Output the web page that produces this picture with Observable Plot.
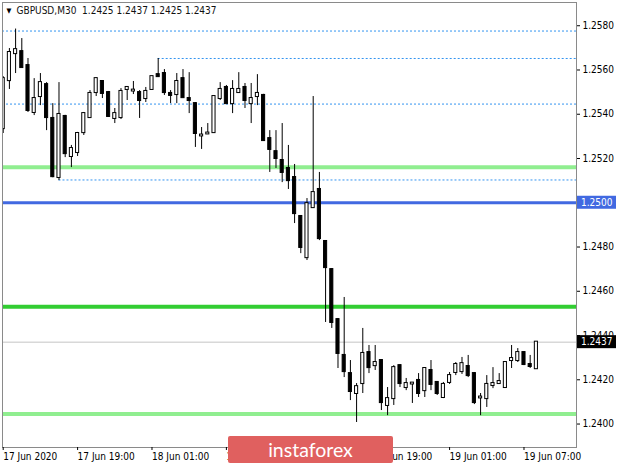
<!DOCTYPE html>
<html><head><meta charset="utf-8">
<script src="https://cdn.jsdelivr.net/npm/d3@7"></script>
<script src="https://cdn.jsdelivr.net/npm/@observablehq/plot@0.6"></script>
<style>
html,body{margin:0;padding:0;background:#fff;}
#wrap{position:relative;width:620px;height:465px;overflow:hidden;}
#wm{position:absolute;left:228px;top:436px;width:165px;height:27px;background:#e0605f;border-radius:2px;color:#fff;font:19.5px Lato,"Open Sans",sans-serif;text-align:center;line-height:27px;z-index:2;}
</style></head><body><div id="wrap"><div id="wm">instaforex</div></div>
<script>
// ---- data ----
const symbolTitle = "GBPUSD,M30";
const lastBar = [1.2425, 1.2437, 1.2425, 1.2437];

const opens = [
1.25335,1.25552,1.25674,1.25683,1.25620,1.25408,1.25480,1.25534,1.25381,1.25114,
1.25390,1.25209,1.25227,1.25317,1.25385,1.25498,1.25548,1.25498,1.25381,1.25385,
1.25512,1.25505,1.25498,1.25471,1.25512,1.25579,1.25584,1.25494,1.25489,1.25561,
1.25471,1.25448,1.25302,1.25311,1.25317,1.25471,1.25521,1.25448,1.25498,1.25521,
1.25448,1.25480,1.25485,1.25290,1.25231,1.25191,1.25155,1.25114,1.24938,1.24752,
1.24978,1.25060,1.24825,1.24698,1.24472,1.24310,1.24228,1.24138,1.24183,1.24323,
1.24264,1.24287,1.24084,1.24115,1.24264,1.24165,1.24181,1.24197,1.24151,1.24242,
1.24188,1.24120,1.24188,1.24233,1.24237,1.24260,1.24228,1.24118,1.24115,1.24174,
1.24183,1.24165,1.24287,1.24287,1.24323,1.24269,1.2425];
const highs = [
1.25570,1.25697,1.25785,1.25742,1.25652,1.25561,1.25584,1.25543,1.25448,1.25543,
1.25395,1.25259,1.25318,1.25408,1.25507,1.25565,1.25552,1.25503,1.25426,1.25516,
1.25525,1.25548,1.25507,1.25521,1.25570,1.25652,1.25602,1.25507,1.25584,1.25602,
1.25588,1.25453,1.25340,1.25358,1.25480,1.25543,1.25530,1.25552,1.25588,1.25539,
1.25539,1.25579,1.25490,1.25326,1.25326,1.25358,1.25259,1.25173,1.24942,1.25019,
1.25480,1.25137,1.24829,1.24702,1.24477,1.24572,1.24287,1.24183,1.24432,1.24355,
1.24355,1.24291,1.24165,1.24264,1.24268,1.24206,1.24185,1.24228,1.24255,1.24287,
1.24192,1.24188,1.24233,1.24278,1.24301,1.24310,1.24233,1.24138,1.24219,1.24255,
1.24228,1.24278,1.24355,1.24341,1.24327,1.24310,1.2437];
const lows = [
1.25313,1.25512,1.25584,1.25611,1.25408,1.25394,1.25439,1.25326,1.25113,1.25100,
1.25204,1.25159,1.25209,1.25304,1.25381,1.25480,1.25471,1.25386,1.25358,1.25376,
1.25462,1.25489,1.25381,1.25453,1.25512,1.25566,1.25485,1.25448,1.25448,1.25475,
1.25403,1.25250,1.25241,1.25309,1.25313,1.25462,1.25448,1.25403,1.25494,1.25426,
1.25358,1.25439,1.25277,1.25137,1.25155,1.25091,1.25060,1.24906,1.24770,1.24739,
1.24974,1.24829,1.24459,1.24432,1.24251,1.24210,1.24106,1.24007,1.24138,1.24228,
1.24242,1.24061,1.24038,1.24084,1.24165,1.24151,1.24093,1.24120,1.24120,1.24151,
1.24129,1.24115,1.24179,1.24219,1.24224,1.24210,1.24088,1.24038,1.24075,1.24160,
1.24179,1.24165,1.24251,1.24278,1.24264,1.24251,1.2425];
const closes = [
1.25561,1.25679,1.25692,1.25611,1.25417,1.25471,1.25543,1.25385,1.25118,1.25399,
1.25222,1.25245,1.25313,1.25403,1.25494,1.25561,1.25494,1.25390,1.25403,1.25503,
1.25521,1.25509,1.25462,1.25503,1.25570,1.25570,1.25498,1.25485,1.25548,1.25475,
1.25462,1.25313,1.25306,1.25315,1.25480,1.25512,1.25448,1.25512,1.25512,1.25462,
1.25471,1.25494,1.25281,1.25241,1.25200,1.25137,1.25100,1.24951,1.24798,1.24996,
1.25046,1.24838,1.24707,1.24459,1.24319,1.24237,1.24147,1.24169,1.24319,1.24255,
1.24278,1.24097,1.24115,1.24255,1.24183,1.24183,1.24185,1.24138,1.24251,1.24179,
1.24138,1.24179,1.24219,1.24269,1.24273,1.24219,1.24097,1.24122,1.24179,1.24183,
1.24192,1.24278,1.24296,1.24323,1.24269,1.24260,1.2437];

const dashedLevels = [1.25776, 1.25652, 1.25446, 1.25103];
const dashedStartBar = [null, 25, null, 9];          // null = from the left edge
const zoneLevels = [1.25161, 1.2500, 1.24530, 1.24045];
const zoneColors = ["#90ee90", "#4169e1", "#32cd32", "#90ee90"];
const zoneWidths = [4, 3, 4, 4];
const bidLevel = 1.2437;
const tagLevels = [1.2500, 1.2437];
const tagColors = ["#4169e1", "#000000"];
const priceTicks = [1.2400,1.2420,1.2440,1.2460,1.2480,1.2500,1.2520,1.2540,1.2560,1.2580];
const timeTickBars = [0,12,24,36,48,60,72,84];
const timeTickLabels = ["17 Jun 2020","17 Jun 19:00","18 Jun 01:00","18 Jun 07:00","18 Jun 13:00","18 Jun 19:00","19 Jun 01:00","19 Jun 07:00"];

// ---- build ----
const xDomain = [-0.113, 92.47];
const yDomain = [1.23894, 1.25905];
const bars = opens.map((o, i) => ({i, o, h: highs[i], l: lows[i], c: closes[i]}));
const dashed = dashedLevels.map((v, k) => ({v, s: dashedStartBar[k] ?? xDomain[0]}));
const font = '"DejaVu Sans Condensed","DejaVu Sans",sans-serif';

const chart = Plot.plot({
  width: 620, height: 465,
  marginTop: 2, marginBottom: 18, marginLeft: 2, marginRight: 44,
  style: {fontFamily: font, fontSize: "10px", background: "#fff", color: "#000", overflow: "visible"},
  x: {type: "linear", domain: xDomain},
  y: {domain: yDomain},
  marks: [
    Plot.ruleY(dashed, {y: "v", x1: "s", x2: () => xDomain[1], stroke: "#3394f0", strokeDasharray: "2,2", strokeWidth: 1}),
    ...zoneLevels.map((v, k) => Plot.ruleY([v], {stroke: zoneColors[k], strokeWidth: zoneWidths[k]})),
    Plot.ruleY([bidLevel], {stroke: "#c4c4c4", strokeWidth: 1}),
    Plot.ruleX(bars, {x: "i", y1: "l", y2: "h", stroke: "#000", strokeWidth: 1, clip: true}),
    Plot.rect(bars, {x1: d => d.i - 0.25, x2: d => d.i + 0.25, y1: "o", y2: "c",
      fill: d => d.c >= d.o ? "#ffffff" : "#000000", stroke: "#000", strokeWidth: 1,
      insetTop: -0.5, insetBottom: -0.5, clip: true}),
    Plot.frame({stroke: "#8a8a8a"}),
    Plot.axisY({anchor: "right", ticks: priceTicks, tickFormat: d => d.toFixed(4), tickSize: 3, tickPadding: 3, fontSize: 10}),
    Plot.axisX({anchor: "bottom", ticks: timeTickBars, tickFormat: d => timeTickLabels[timeTickBars.indexOf(d)],
      textAnchor: "start", tickSize: 3, tickPadding: 2, fontSize: 10}),
    Plot.text(["\u25BC"], {frameAnchor: "top-left", dx: 4, dy: 6, fontSize: 7, textAnchor: "start", lineAnchor: "top"}),
    Plot.text([symbolTitle + " \u00A0" + lastBar.map(v => v.toFixed(4)).join(" ")],
      {frameAnchor: "top-left", dx: 14, dy: 4, fontSize: 10, textAnchor: "start", lineAnchor: "top", fill: "#111"})
  ]
});

// price tags on the right axis, positioned with the plot's y scale
const ys = chart.scale("y");
const g = d3.select(chart).append("g").attr("text-anchor", "start");
tagLevels.forEach((v, k) => {
  const py = ys.apply(v);
  g.append("rect").attr("x", 577).attr("y", py - 6.5).attr("width", 39).attr("height", 13).attr("fill", tagColors[k]);
  g.append("text").attr("x", 581).attr("y", py).attr("dy", "0.35em").attr("fill", "#fff")
    .attr("text-anchor", "start").attr("font-family", font).attr("font-size", 10).text(v.toFixed(4));
});

document.getElementById("wrap").prepend(chart);
</script>
</body></html>
